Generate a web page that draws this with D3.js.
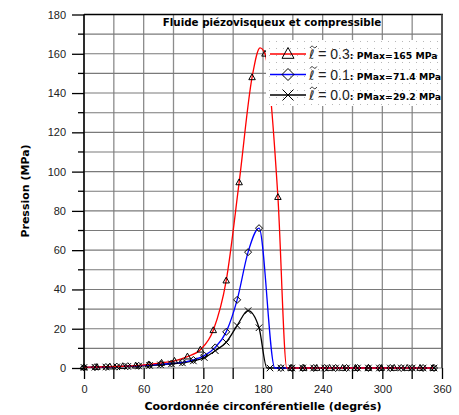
<!DOCTYPE html>
<html><head><meta charset="utf-8">
<script src="https://cdn.jsdelivr.net/npm/d3@7"></script>
<style>body{margin:0;background:#fff}svg{display:block}</style>
</head><body>
<svg id="c" width="459" height="415"></svg>
<script>
// ---- data ----
const xTicks = [0, 60, 120, 180, 240, 300, 360];
const yTicks = [0, 20, 40, 60, 80, 100, 120, 140, 160, 180];
const seriesNames = ["0.3", "0.1", "0.0"];
const seriesPMax = ["165", "71.4", "29.2"];

const redMarkDeg = [0,13,26,39,52,65,78,91,104,117,130,143,156,169,182,195,208,221,234,247,260,273,286,299,312,325,338,351];
const redMarkP   = [0.3,0.5,0.7,0.9,1.2,1.8,2.6,3.6,5.8,9.3,19.2,44.5,94.5,148,160,87,0,0,0,0,0,0,0,0,0,0,0,0];
const redExtraDeg = [177, 204];
const redExtraP   = [163, 0];

const blueMarkDeg = [0,11,22,33,44,55,66,77,88,99,110,121,132,143,154,165,176,198,209,220,231,242,253,264,275,286,297,308,319,330,341,352];
const blueMarkP   = [0.3,0.4,0.5,0.7,0.9,1.1,1.5,1.9,2.3,2.9,4.1,6.3,10.5,18.4,34.7,59,71.2,0,0,0,0,0,0,0,0,0,0,0,0,0,0,0];
const blueExtraDeg = [192];
const blueExtraP   = [0];

const blackMarkDeg = [0,11,22,33,44,55,66,77,88,99,110,121,132,143,154,165,176,187,198,209,220,231,242,253,264,275,286,297,308,319,330,341,352];
const blackMarkP   = [0.3,0.4,0.5,0.6,0.8,1.0,1.3,1.6,2.1,2.6,3.6,5.3,8.8,13.1,21.6,29.2,20.5,0,0,0,0,0,0,0,0,0,0,0,0,0,0,0,0];
const blackExtraDeg = [184];
const blackExtraP   = [0];

// ---- layout ----
const svg = d3.select("#c");
const L = 84, R = 442, T = 14.5, B = 368;
const x = d3.scaleLinear().domain([0, 360]).range([L, R]);
const y = d3.scaleLinear().domain([0, 180]).range([B, T]);
const FONT = "'Liberation Sans', Arial, sans-serif";
const BOLD = "'DejaVu Sans', 'Liberation Sans', sans-serif";

// grid
const g = svg.append("g");
g.selectAll("line.v").data(d3.range(0, 361, 30)).join("line")
  .attr("x1", d => x(d)).attr("x2", d => x(d)).attr("y1", T).attr("y2", B)
  .attr("stroke", "#8c8c8c").attr("stroke-width", 1.3);
g.selectAll("line.h").data(d3.range(0, 181, 10)).join("line")
  .attr("x1", L).attr("x2", R).attr("y1", d => y(d)).attr("y2", d => y(d))
  .attr("stroke", "#7a7a7a").attr("stroke-width", 1.1);

// borders
svg.append("line").attr("x1", L).attr("x2", R + 1).attr("y1", T).attr("y2", T).attr("stroke", "#000").attr("stroke-width", 1.5);
svg.append("line").attr("x1", R).attr("x2", R).attr("y1", T).attr("y2", B).attr("stroke", "#555").attr("stroke-width", 2);

// y axis
const yAxis = d3.axisLeft(y).tickValues(yTicks).tickSize(12).tickPadding(6).tickFormat(d3.format("d"));
const ya = svg.append("g").attr("transform", `translate(${L},0)`).call(yAxis);
ya.select(".domain").attr("stroke", "#000").attr("stroke-width", 1.5).attr("d", `M0,${T}V${B}`);
ya.selectAll(".tick line").attr("stroke", "#000").attr("stroke-width", 1.3);
ya.selectAll(".tick text").attr("font-family", FONT).attr("font-size", 11).attr("fill", "#222");
svg.append("g").selectAll("line").data(d3.range(10, 180, 20)).join("line")
  .attr("x1", L - 6).attr("x2", L).attr("y1", d => y(d)).attr("y2", d => y(d))
  .attr("stroke", "#000").attr("stroke-width", 1.3);

// x axis
const xAxis = d3.axisBottom(x).tickValues(xTicks).tickSize(11).tickPadding(6).tickFormat(d3.format("d"));
const xa = svg.append("g").attr("transform", `translate(0,${B})`).call(xAxis);
xa.select(".domain").remove();
xa.selectAll(".tick line").attr("stroke", "#000").attr("stroke-width", 1.3);
xa.selectAll(".tick text").attr("font-family", FONT).attr("font-size", 11).attr("fill", "#222");
svg.append("g").selectAll("line").data(d3.range(30, 360, 60)).join("line")
  .attr("x1", d => x(d)).attr("x2", d => x(d)).attr("y1", B).attr("y2", B + 11)
  .attr("stroke", "#000").attr("stroke-width", 1.3);

// labels
svg.append("text").attr("x", 263).attr("y", 410).attr("text-anchor", "middle")
  .attr("font-family", BOLD).attr("font-weight", "bold").attr("font-size", 11)
  .text("Coordonnée circonférentielle (degrés)");
svg.append("text").attr("transform", "translate(29,191) rotate(-90)").attr("text-anchor", "middle")
  .attr("font-family", BOLD).attr("font-weight", "bold").attr("font-size", 11)
  .text("Pression (MPa)");
svg.append("text").attr("x", 272).attr("y", 26).attr("text-anchor", "middle")
  .attr("font-family", BOLD).attr("font-weight", "bold").attr("font-size", 10.3)
  .text("Fluide piézovisqueux et compressible");

// markers
function marker(sel, type, s) {
  if (type === "tri") {
    const h = s * 0.9;
    sel.append("path").attr("d", `M0,${-h*0.6}L${s/2},${h*0.4}L${-s/2},${h*0.4}Z`)
      .attr("fill", "none").attr("stroke", "#000").attr("stroke-width", 1);
  } else if (type === "dia") {
    const r = s / 2;
    sel.append("path").attr("d", `M0,${-r}L${r},0L0,${r}L${-r},0Z`)
      .attr("fill", "none").attr("stroke", "#000").attr("stroke-width", 1);
  } else {
    const r = s / 2;
    sel.append("path").attr("d", `M${-r},${-r}L${r},${r}M${-r},${r}L${r},${-r}`)
      .attr("fill", "none").attr("stroke", "#000").attr("stroke-width", 1);
  }
}

const series = [
  {color: "#000", type: "x",   md: blackMarkDeg, mp: blackMarkP, ed: blackExtraDeg, ep: blackExtraP},
  {color: "#0000ff", type: "dia", md: blueMarkDeg, mp: blueMarkP, ed: blueExtraDeg, ep: blueExtraP},
  {color: "#ff0000", type: "tri", md: redMarkDeg, mp: redMarkP, ed: redExtraDeg, ep: redExtraP}
];
const line = d3.line().x(d => x(d[0])).y(d => y(d[1])).curve(d3.curveMonotoneX);
series.forEach(s => {
  const pts = s.md.map((d, i) => [d, s.mp[i]]).concat(s.ed.map((d, i) => [d, s.ep[i]]))
    .sort((a, b) => a[0] - b[0]);
  svg.append("path").datum(pts).attr("d", line).attr("fill", "none")
    .attr("stroke", s.color).attr("stroke-width", 1.3);
});
series.forEach(s => {
  s.md.forEach((d, i) => {
    const gg = svg.append("g").attr("transform", `translate(${x(d)},${y(s.mp[i])})`);
    marker(gg, s.type, s.type === "dia" ? 7 : 6.5);
  });
});

// legend
const defs = svg.append("defs");
const pat = defs.append("pattern").attr("id", "dots").attr("patternUnits", "userSpaceOnUse")
  .attr("width", 7).attr("height", 7).attr("x", 266).attr("y", 38);
pat.append("rect").attr("width", 7).attr("height", 7).attr("fill", "#fff");
pat.append("rect").attr("x", 3).attr("y", 3).attr("width", 1).attr("height", 1).attr("fill", "#b8b8b8");
svg.append("rect").attr("x", 266).attr("y", 40).attr("width", R - 266 - 1).attr("height", 66).attr("fill", "url(#dots)");

const legColors = ["#ff0000", "#0000ff", "#000"];
const legTypes = ["tri", "dia", "x"];
const legY = [54, 74.5, 95];
seriesNames.forEach((nm, i) => {
  const ly = legY[i];
  svg.append("line").attr("x1", 270).attr("x2", 306).attr("y1", ly).attr("y2", ly)
    .attr("stroke", legColors[i]).attr("stroke-width", 1.3);
  const gg = svg.append("g").attr("transform", `translate(288,${ly})`);
  marker(gg, legTypes[i], legTypes[i] === "x" ? 11 : 12);
  // tilde accent drawn as a small path above the ell
  svg.append("path")
    .attr("d", `M${310},${ly - 6}c1.2,-2.2 2.4,-2.2 3.4,-1 s2.2,1.2 3.4,-1`)
    .attr("fill", "none").attr("stroke", "#222").attr("stroke-width", 0.9);
  const t = svg.append("text").attr("x", 309).attr("y", ly + 5).attr("font-family", FONT).attr("fill", "#222");
  t.append("tspan").attr("font-family", "'DejaVu Sans', sans-serif").attr("font-size", 13).text("\u2113");
  t.append("tspan").attr("font-size", 14).text(" = " + nm);
  t.append("tspan").attr("font-family", BOLD).attr("font-size", 9.3).attr("font-weight", "bold").attr("fill", "#000")
    .text(": PMax=" + seriesPMax[i] + " MPa");
});
</script>
</body></html>
